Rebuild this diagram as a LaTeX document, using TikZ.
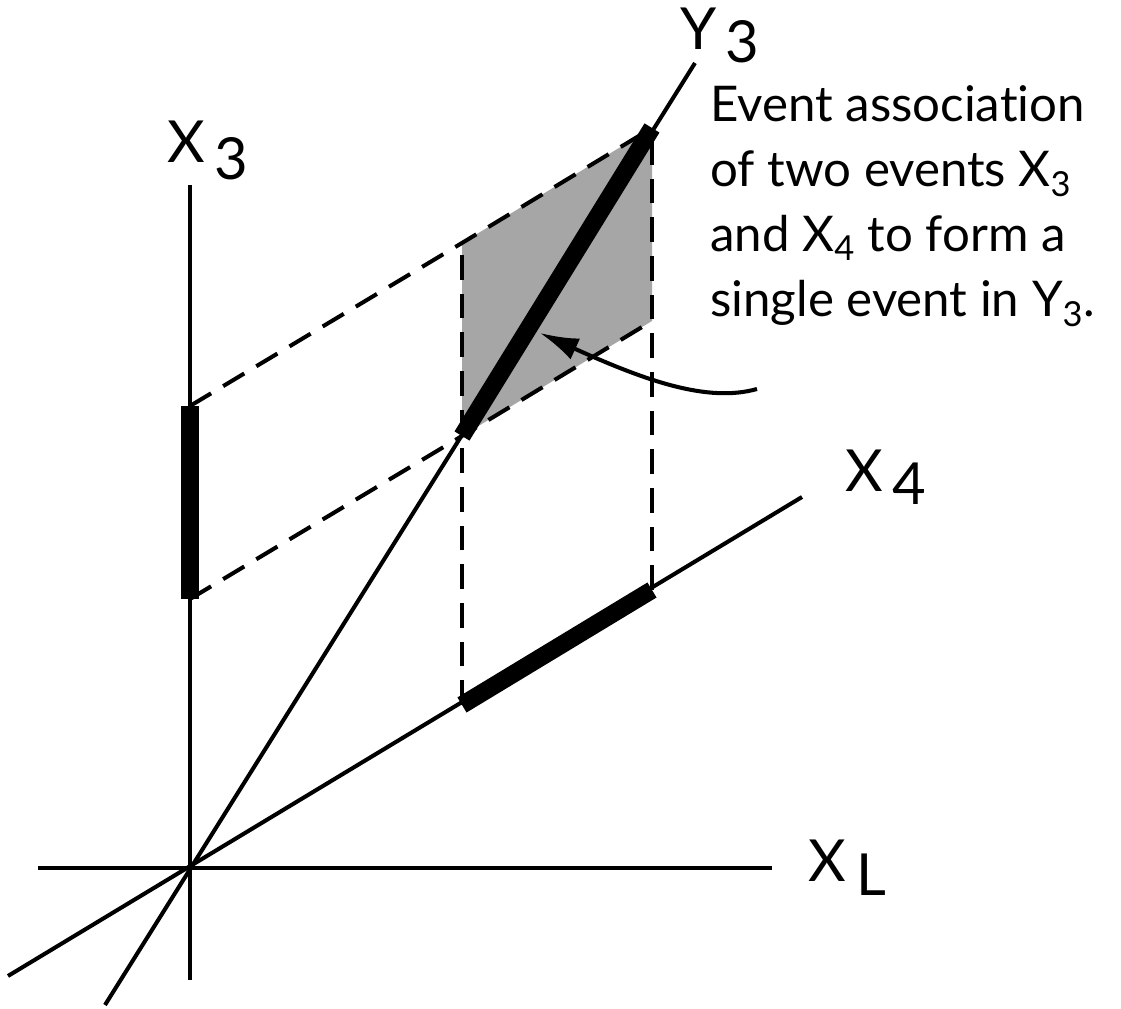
\documentclass[tikz,border=0pt]{standalone}
\usepackage{fontspec}
\setmainfont{Lato}[Ligatures=NoCommon]
\usetikzlibrary{arrows.meta}
\definecolor{ShadeGray}{RGB}{166,166,166}

\begin{document}
\begin{tikzpicture}[
  axis/.style={line width=2.3pt},
  bar/.style={line width=10pt},
  proj/.style={line width=2.3pt,dash pattern=on 14pt off 8pt},
  lbl/.style={anchor=base west,inner sep=0pt,font=\fontsize{33}{33}\selectfont},
  note/.style={anchor=north west,inner sep=0pt,align=left,font=\fontsize{28}{37}\selectfont},
  arr/.style={-{Latex[length=22pt,width=13pt]},line width=2.3pt}
]
\useasboundingbox (-3.8,-2.82) rectangle (18.62,17.36);
% axes
\coordinate (O) at (0,0);
\coordinate (xlw) at (-3.04,0);
\coordinate (xle) at (11.64,0);
\coordinate (x3s) at (0,-2.24);
\coordinate (x3n) at (0,13.66);
\coordinate (x4s) at (-3.64,-2.16);
\coordinate (x4n) at (12.24,7.42);
\coordinate (y3s) at (-1.7,-2.74);
\coordinate (y3n) at (10.1,16.1);
% event intervals and their projections
\coordinate (p) at (0,5.38);
\coordinate (q) at (0,9.24);
\coordinate (a) at (5.44,3.26);
\coordinate (b) at (9.24,5.56);
\coordinate (ap) at (5.44,8.64);
\coordinate (aq) at (5.44,12.5);
\coordinate (bp) at (9.24,10.94);
\coordinate (bq) at (9.24,14.8);

\fill[ShadeGray] (ap) -- (aq) -- (bq) -- (bp) -- cycle;
\draw[proj] (q) -- (aq) -- (bq);
\draw[proj] (p) -- (ap) -- (bp);
\draw[proj] (a) -- (aq);
\draw[proj] (b) -- (bq);

\draw[axis] (xlw) -- (xle);
\draw[axis] (x3s) -- (x3n);
\draw[axis] (x4s) -- (x4n);
\draw[axis] (y3s) -- (y3n);

\draw[bar] (p) -- (q);
\draw[bar] (a) -- (b);
\draw[bar] (ap) -- (bq);

% labels
\node[lbl] (lx3) at (-0.46,14.1) {X\hspace{0.2cm}\raisebox{-0.34cm}{3}};
\node[lbl] (ly3) at (9.8,16.36) {Y\hspace{0.18cm}\raisebox{-0.26cm}{3}};
\node[lbl] (lx4) at (13.1,7.52) {X\hspace{0.2cm}\raisebox{-0.26cm}{4}};
\node[lbl] (lxl) at (12.36,-0.28) {X\hspace{0.22cm}\raisebox{-0.28cm}{L}};
\node[note] (txt) at (10.4,15.66) {Event association\\of two events X\textsubscript{3}\\and X\textsubscript{4} to form a\\single event in Y\textsubscript{3}.};

\coordinate (tail) at (11.34,9.58);
\coordinate (tip) at (7.0,10.7);
\draw[arr] (tail) .. controls (10.35,9.3) and (9.1,9.75) .. (tip);
\end{tikzpicture}
\end{document}
